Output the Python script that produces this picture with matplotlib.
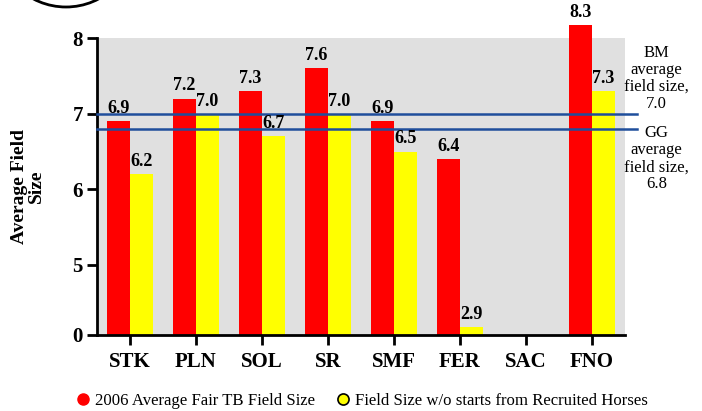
import numpy as np
import matplotlib.pyplot as plt
from matplotlib.lines import Line2D
from matplotlib.patches import Circle
from matplotlib.transforms import IdentityTransform

# данные
tracks = ['STK', 'PLN', 'SOL', 'SR', 'SMF', 'FER', 'SAC', 'FNO']
avg_field = [6.9, 7.2, 7.3, 7.6, 6.9, 6.4, np.nan, 8.3]
no_recruited = [6.2, 7.0, 6.7, 7.0, 6.5, 2.9, np.nan, 7.3]
bm_avg = 7.0
gg_avg = 6.8
ytick_vals = [0, 5, 6, 7, 8]

red = '#ff0000'
yellow = '#ffff00'
blue = '#1f4e9c'

# разрывная шкала: низ и верх оси сжаты
_kv = [0, 4, 5, 8, 9]
_ku = [0, 0.15, 0.925, 3.925, 4.49]
fwd = lambda v: np.interp(v, _kv, _ku)
inv = lambda u: np.interp(u, _ku, _kv)

plt.rcParams['font.family'] = ['Liberation Serif', 'DejaVu Serif']

fig = plt.figure(figsize=(7.02, 4.11), dpi=100)
ax = fig.add_axes([0.138, 0.185, 0.752, 0.7225])
ax.set_facecolor('#e0e0e0')
ax.set_yscale('function', functions=(fwd, inv))

x = np.arange(len(tracks))
w = 0.35
ax.bar(x - w / 2, avg_field, w, color=red, clip_on=False, zorder=2)
ax.bar(x + w / 2, no_recruited, w, color=yellow, clip_on=False, zorder=2)

# подписи значений
for xs, vals in [(x - w / 2, avg_field), (x + w / 2, no_recruited)]:
    for xi, v in zip(xs, vals):
        if np.isnan(v):
            continue
        ax.annotate(f'{v:.1f}', (xi, v), xytext=(0, 3), textcoords='offset points',
                    ha='center', va='bottom', fontsize=13, fontweight='bold',
                    annotation_clip=False, zorder=4)

# средние линии
for val in (bm_avg, gg_avg):
    ax.plot([-0.5, 7.68], [val, val], color=blue, lw=1.8, clip_on=False, zorder=3)

ax.text(1.06, 0.864, 'BM\naverage\nfield size,\n7.0', transform=ax.transAxes,
        ha='center', va='center', fontsize=12, linespacing=1.1)
ax.text(1.06, 0.594, 'GG\naverage\nfield size,\n6.8', transform=ax.transAxes,
        ha='center', va='center', fontsize=12, linespacing=1.1)

ax.set_xlim(-0.5, 7.5)
ax.set_ylim(0, 8)
ax.set_xticks(x)
ax.set_xticklabels(tracks, fontsize=15, fontweight='bold')
ax.set_yticks(ytick_vals)
ax.set_yticklabels([str(v) for v in ytick_vals], fontsize=15, fontweight='bold')
ax.yaxis.set_minor_locator(plt.NullLocator())
ax.tick_params(axis='both', length=7, width=2, direction='out', pad=3)
ax.tick_params(axis='x', pad=5)
for s in ['top', 'right']:
    ax.spines[s].set_visible(False)
for s in ['left', 'bottom']:
    ax.spines[s].set_linewidth(2)

ax.set_ylabel('Average Field\nSize', fontsize=14, fontweight='bold', labelpad=20,
              linespacing=0.95)

handles = [
    Line2D([], [], marker='o', ls='none', markerfacecolor=red, markeredgecolor=red, markersize=8),
    Line2D([], [], marker='o', ls='none', markerfacecolor=yellow, markeredgecolor='black',
           markeredgewidth=1.2, markersize=8),
]
fig.legend(handles, ['2006 Average Fair TB Field Size', 'Field Size w/o starts from Recruited Horses'],
           loc='center left', bbox_to_anchor=(0.082, 0.024), ncol=2, frameon=False,
           fontsize=12.1, handletextpad=0.1, columnspacing=1.1, handlelength=1.2)

# обрезанный логотип сверху
fig.add_artist(Circle((66, 411 + 63), 70, transform=IdentityTransform(),
                      fill=False, lw=2, color='black'))

fig.savefig('out.png', dpi=100)
